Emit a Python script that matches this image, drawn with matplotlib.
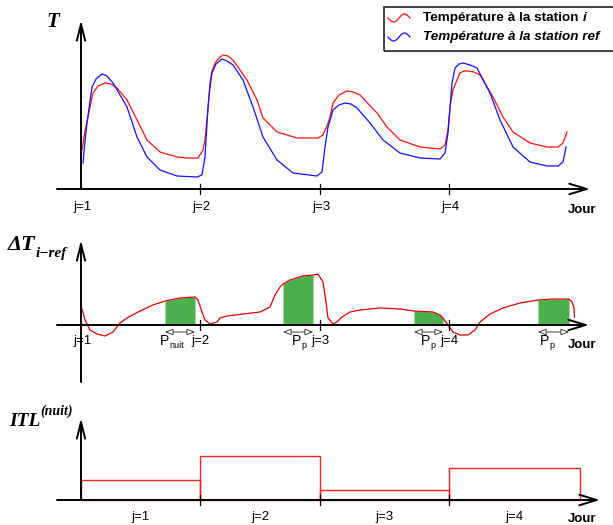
import numpy as np
import matplotlib
matplotlib.use("Agg")
import matplotlib.pyplot as plt
from matplotlib.patches import Rectangle

plt.rcParams['font.family'] = ['Liberation Sans', 'DejaVu Sans']

# ---------------- data (time in chart units, values above the time axis) ----------------
day_ticks = [0, 119, 239, 368]
day_labels = ["j=1", "j=2", "j=3", "j=4"]

t_red = [1, 4, 7, 12, 17, 24, 30, 36, 46, 56, 66, 79, 96, 106, 117, 122, 124, 127, 129, 131,
         134, 138, 142, 147, 152, 166, 176, 182, 196, 216, 237, 242, 246, 249, 252, 258, 266,
         272, 279, 296, 306, 319, 339, 359, 364, 367, 369, 372, 376, 379, 383, 387, 393, 399,
         412, 422, 432, 449, 466, 477, 482, 486]
T_red = [39, 58, 72, 96, 103, 106, 105, 101, 89, 69, 49, 37, 32, 31, 31, 39, 49, 80, 106, 118,
         126, 131, 134, 133, 129, 109, 89, 71, 57, 51, 51, 54, 63, 72, 86, 94, 98,
         97, 94, 76, 62, 49, 42, 40, 44, 59, 82, 99, 109, 116, 118, 118, 117, 114,
         92, 72, 57, 46, 42, 42, 46, 57]

t_blue = [2, 4, 6, 11, 15, 21, 26, 32, 46, 56, 66, 79, 96, 116, 121, 124, 127, 129, 131, 135,
          141, 146, 152, 162, 172, 182, 196, 212, 236, 241, 244, 247, 252, 258, 264, 270, 276,
          289, 302, 319, 339, 359, 364, 367, 371, 374, 378, 382, 389, 396, 409, 419, 432, 449,
          466, 477, 482, 485]
T_blue = [26, 48, 66, 102, 110, 115, 113, 106, 82, 52, 32, 19, 13, 12, 14, 32, 82, 102, 116, 125,
          130, 128, 124, 109, 82, 52, 29, 16, 13, 17, 42, 62, 79, 84, 86, 85, 81,
          66, 49, 36, 31, 30, 36, 56, 106, 121, 125, 126, 124, 121, 96, 69, 42, 27,
          23, 23, 27, 42]

t_diff = [1, 4, 9, 16, 24, 32, 39, 46, 59, 72, 84, 99, 114, 117, 121, 124, 129, 136, 139, 146,
          162, 179, 189, 194, 199, 202, 209, 222, 232, 237, 242, 245, 247, 252, 256, 261, 269,
          279, 289, 299, 319, 333, 352, 359, 362, 364, 367, 372, 379, 387, 394, 399, 409, 422,
          439, 457, 472, 488, 491, 493, 493.5]
dT = [16, 5, -5, -9, -11, -7, 2, 7, 14, 20, 24, 27, 28, 25, 13, 5, 1, 3, 7, 9,
      11, 13, 18, 30, 38, 41, 45, 49, 50, 51, 43, 23, 7, 1, 3, 8, 13,
      15, 16, 17, 16, 14, 13, 10, 7, 4, 0, -7, -10, -10, -5, 3, 11, 17,
      22, 25, 26, 26, 23, 17, 8]

period_start = [84, 202, 333, 457]
period_end = [114, 232, 362, 488]
period_labels = ["nuit", "p", "p", "p"]
period_label_x = [79, 211, 340, 459]

itl_edges = [0, 119, 239, 368]
itl_widths = [119, 120, 129, 131]
itl_values = [20, 44, 10, 32]

# ---------------- figure ----------------
W, H = 613, 525
fig = plt.figure(figsize=(W / 100, H / 100), dpi=100)


def make_ax(top_px, bot_px, axis_px):
    ax = fig.add_axes([0, (H - bot_px) / H, 1, (bot_px - top_px) / H])
    ax.set_xlim(-81, W - 81)
    ax.set_ylim(axis_px - bot_px, axis_px - top_px)
    ax.axis('off')
    ax.patch.set_alpha(0)
    return ax


def draw_axes(ax, y_top, y_bot, x_tip, ticks):
    ax.annotate('', xy=(x_tip, 0), xytext=(-24, 0),
                arrowprops=dict(arrowstyle='->,head_length=1.25,head_width=0.38',
                                lw=1.4, color='black', shrinkA=0, shrinkB=0), zorder=5)
    ax.annotate('', xy=(0, y_top), xytext=(0, y_bot),
                arrowprops=dict(arrowstyle='->,head_length=1.2,head_width=0.3',
                                lw=1.4, color='black', shrinkA=0, shrinkB=0), zorder=5)
    for tk in ticks:
        ax.plot([tk, tk], [-5, 5], color='black', lw=0.9, zorder=5)


LAB = 9.5
SER = ['Liberation Serif', 'DejaVu Serif']

# Panel 1: temperatures
ax1 = make_ax(0, 215, 189)
draw_axes(ax1, 169, 0, 509, day_ticks[1:])
ax1.plot(t_red, T_red, color='#ff1010', lw=0.9)
ax1.plot(t_blue, T_blue, color='#1010ff', lw=0.9)
for tk, lb in zip(day_ticks, day_labels):
    ax1.text(tk + 1, -18, lb, ha='center', va='center', fontsize=LAB)
ax1.text(501, -21, "Jour", ha='center', va='center', fontsize=LAB, fontweight='bold')
ax1.text(-28, 167, "T", ha='center', va='center', fontsize=15, fontweight='bold',
         fontstyle='italic', family=SER)

# Panel 2: difference
ax2 = make_ax(215, 390, 325)
draw_axes(ax2, 85, -57, 508, day_ticks[1:])
t_d = np.array(t_diff)
v_d = np.array(dT)
for a, b in zip(period_start, period_end):
    m = (t_d >= a) & (t_d <= b)
    ax2.fill_between(t_d[m], v_d[m], 0, color='#4cb04c', lw=0, zorder=2)
    ax2.annotate('', xy=(b, -7), xytext=(a, -7),
                 arrowprops=dict(arrowstyle='<|-|>,head_length=0.5,head_width=0.2',
                                 lw=0.6, color='#222222', fc='white',
                                 shrinkA=0, shrinkB=0, mutation_scale=10), zorder=4)
ax2.plot(t_diff, dT, color='#e00000', lw=0.9, zorder=3)
ax2.text(1, -16, day_labels[0], ha='center', va='center', fontsize=LAB)
for tk, lb in zip(day_ticks[1:], day_labels[1:]):
    ax2.text(tk, -16, lb, ha='center', va='center', fontsize=LAB)
for px, lb in zip(period_label_x, period_labels):
    ax2.text(px, -16, "P", ha='left', va='center', fontsize=LAB + 0.5)
    ax2.text(px + 9, -21, lb, ha='left', va='center', fontsize=6.5)
ax2.text(501, -20, "Jour", ha='center', va='center', fontsize=LAB, fontweight='bold')
ax2.text(-73, 80, "ΔT", ha='left', va='center', fontsize=16, fontweight='bold',
         fontstyle='italic', family=SER)
ax2.text(-45, 71, "i−ref", ha='left', va='center', fontsize=11, fontweight='bold',
         fontstyle='italic', family=SER)

# Panel 3: ITL
ax3 = make_ax(390, 525, 500)
ax3.bar(itl_edges, itl_values, width=itl_widths, align='edge', fill=False,
        edgecolor='#ff2020', lw=1.0, zorder=2)
draw_axes(ax3, 82, 0, 519, day_ticks[1:])
for tk, w, lb in zip(day_ticks, itl_widths, day_labels):
    ax3.text(tk + w / 2, -17, lb, ha='center', va='center', fontsize=LAB)
ax3.text(501, -19, "Jour", ha='center', va='center', fontsize=LAB, fontweight='bold')
ax3.text(-72, 78, "ITL", ha='left', va='center', fontsize=14, fontweight='bold',
         fontstyle='italic', family=SER)
ax3.text(-41, 89, "(nuit)", ha='left', va='center', fontsize=10, fontweight='bold',
         fontstyle='italic', family=SER)

# Legend box
fig.add_artist(Rectangle((384 / W, 1 - 51 / H), (W - 384) / W + 0.01, 44 / H,
                         transform=fig.transFigure, fill=False, ec='#222222', lw=1.2))
wx = np.linspace(388, 410, 30)
for yc, col in [(18, '#ff1010'), (37, '#1010ff')]:
    wy = yc + 4 * np.sin((wx - 388) / 22 * 2 * np.pi)
    fig.add_artist(plt.Line2D(wx / W, 1 - wy / H, transform=fig.transFigure, color=col, lw=0.9))
LEG = 9.7
t1 = fig.text(423 / W, 1 - 18 / H, "Température à la station", ha='left', va='center',
              fontsize=LEG, fontweight='bold')
fig.canvas.draw()
bb = t1.get_window_extent()
fig.text((bb.x1 + 4) / W, 1 - 18 / H, "i", ha='left', va='center', fontsize=LEG,
         fontweight='bold', fontstyle='italic')
fig.text(423 / W, 1 - 37 / H, "Température à la station ref", ha='left', va='center',
         fontsize=LEG, fontweight='bold', fontstyle='italic')

fig.savefig("out.png", dpi=100)
